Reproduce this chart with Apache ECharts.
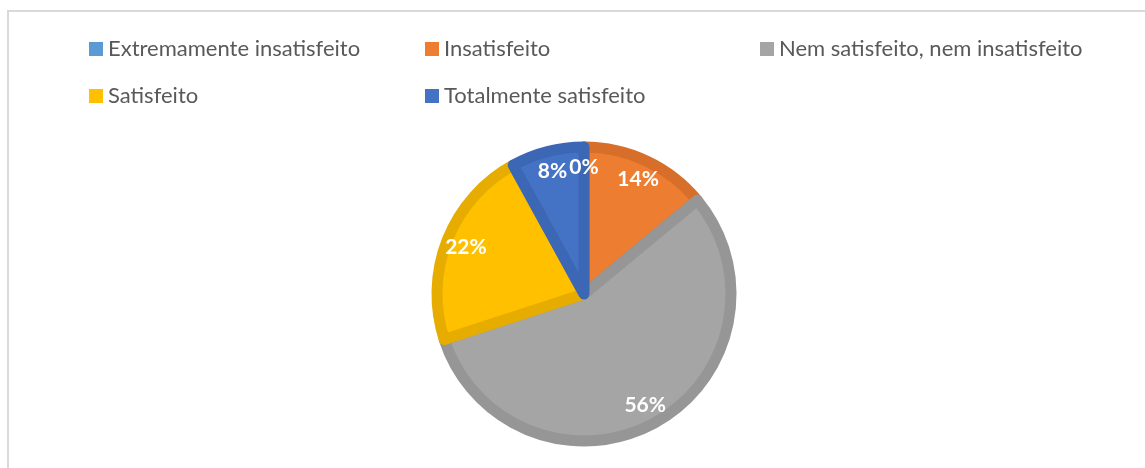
<!DOCTYPE html>
<html>
<head>
<meta charset="utf-8">
<script src="https://cdn.jsdelivr.net/npm/echarts@6/dist/echarts.min.js"></script>
<style>
  html, body { margin: 0; padding: 0; background: #fff; }
  #chart { width: 1145px; height: 468px; }
</style>
</head>
<body>
<div id="chart"></div>
<script>
// categories and values (percent)
var categories = ['Extremamente insatisfeito', 'Insatisfeito', 'Nem satisfeito, nem insatisfeito', 'Satisfeito', 'Totalmente satisfeito'];
var values = [0, 14, 56, 22, 8];
var fillColors = ['#5B9BD5', '#ED7D31', '#A5A5A5', '#FFC000', '#4472C4'];
var borderColors = ['#5089C0', '#D76F2A', '#969696', '#E6AD00', '#3C67B4'];

var pieData = [];
var labelData = [];
for (var i = 0; i < categories.length; i++) {
    pieData.push({
        name: categories[i],
        value: values[i],
        itemStyle: { color: fillColors[i], borderColor: borderColors[i] }
    });
    labelData.push({ name: categories[i], value: values[i] });
}

var chart = echarts.init(document.getElementById('chart'), null, { renderer: 'canvas' });

var legendText = {
    fontFamily: 'Lato',
    fontSize: 22,
    color: '#595959',
    lineHeight: 26
};

function makeLegend(names, left) {
    return {
        orient: 'vertical',
        left: left,
        top: 36,
        padding: 0,
        itemGap: 21,
        itemWidth: 14,
        itemHeight: 14,
        icon: 'rect',
        selectedMode: false,
        itemStyle: { borderWidth: 0 },
        textStyle: legendText,
        data: names
    };
}

var option = {
    backgroundColor: '#ffffff',
    animation: false,
    graphic: [{
        type: 'polyline',
        silent: true,
        shape: { points: [[8, 468], [8, 11], [1145, 11]] },
        style: { stroke: '#d9d9d9', lineWidth: 2, fill: null }
    }],
    legend: [
        makeLegend([categories[0], categories[3]], 89),
        makeLegend([categories[1], categories[4]], 425),
        makeLegend([categories[2]], 760)
    ],
    series: [
        {
            name: 'pie',
            type: 'pie',
            center: [584, 294],
            radius: [0, 147],
            startAngle: 90,
            clockwise: true,
            percentPrecision: 0,
            itemStyle: { borderWidth: 11 },
            label: { show: false },
            labelLine: { show: false },
            emphasis: { disabled: true },
            data: pieData
        },
        {
            name: 'labels',
            type: 'pie',
            center: [584, 294],
            radius: [100, 148],
            startAngle: 90,
            clockwise: true,
            silent: true,
            percentPrecision: 0,
            legendHoverLink: false,
            avoidLabelOverlap: false,
            itemStyle: { color: 'rgba(0,0,0,0)', borderWidth: 0 },
            label: {
                show: true,
                position: 'inside',
                formatter: '{d}%',
                color: '#ffffff',
                fontFamily: 'Lato',
                fontWeight: 'bold',
                fontSize: 21
            },
            labelLine: { show: false },
            emphasis: { disabled: true },
            data: labelData
        }
    ]
};

chart.setOption(option);
</script>
</body>
</html>
